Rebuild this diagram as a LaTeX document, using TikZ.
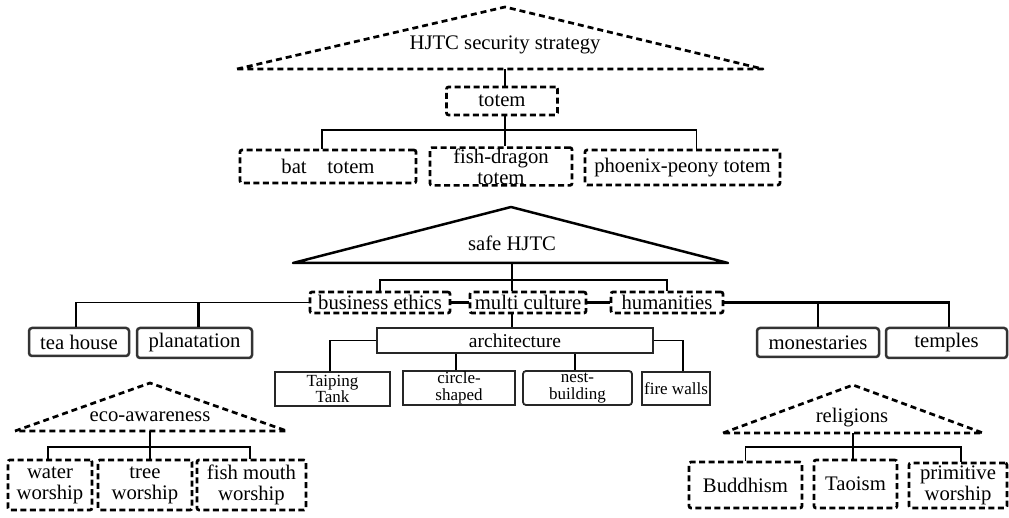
\documentclass[tikz,border=0pt]{standalone}
\usepackage{fontspec}
\setmainfont{Liberation Serif}
\usetikzlibrary{positioning}
\tikzset{
  dbox/.style={draw, dash pattern=on 6pt off 3.5pt, line width=2.7pt,
    rounded corners=2pt, inner sep=1pt, align=center},
  rbox/.style={draw=black!80, line width=2.5pt, rounded corners=3pt, inner sep=1pt},
  abox/.style={draw=black!85, line width=1.8pt, inner sep=1pt, align=center,
    font=\fontsize{17}{16.5}\selectfont},
  dtri/.style={dash pattern=on 6pt off 4pt, line width=2.7pt, line join=round},
  link/.style={line width=1.4pt},
  hlink/.style={line width=2.5pt}
}
\begin{document}
\begin{tikzpicture}[x=1pt,y=-1pt,font=\fontsize{20.7}{21}\selectfont]
  \useasboundingbox (0,0) rectangle (1009,518);

  % security strategy
  \draw[dtri] (237,69) -- (505,7) -- (763,69) -- cycle;
  \node (sectitle) at (505,45) {HJTC security strategy};
  \coordinate (secbase) at (505,69);
  \coordinate (totemjoin) at (505,130);
  \node[dbox, minimum width=111pt, minimum height=28pt] (totem) at (502,101) {totem};
  \node[dbox, minimum width=176pt, minimum height=33pt] (bat) at (328,166.5) {bat\hspace{1em}totem};
  \node[dbox, minimum width=142pt, minimum height=37pt] (fishdragon) at (501,166.5) {fish-dragon\\totem};
  \node[dbox, minimum width=195pt, minimum height=35pt] (phoenix) at (682.5,167.5) {phoenix-peony totem};
  \draw[link] (secbase) -- (secbase |- totem.north);
  \draw[link] (totem.south -| totemjoin) -- (totemjoin);
  \draw[link] ([xshift=-6pt]bat.north) |- (totemjoin) -| ([xshift=14pt]phoenix.north);
  \draw[link] (totemjoin) -- (totemjoin |- fishdragon.north);

  % safe HJTC
  \draw[line width=2.5pt, line join=round] (293,263) -- (511,207) -- (728,263) -- cycle;
  \node (safe) at (512,243) {safe HJTC};
  \coordinate (safebase) at (512,263);
  \coordinate (safejoin) at (512,280);
  \node[dbox, minimum width=140pt, minimum height=21pt] (ethics) at (380,302.5) {business ethics};
  \node[dbox, minimum width=116pt, minimum height=21pt] (multi) at (528,302.5) {multi culture};
  \node[dbox, minimum width=112pt, minimum height=21pt] (humanities) at (667,302.5) {humanities};
  \node[rbox, minimum width=100pt, minimum height=28pt] (teahouse) at (79,342) {tea house};
  \node[rbox, minimum width=115pt, minimum height=30pt] (planatation) at (194.5,343) {planatation};
  \node[rbox, minimum width=122pt, minimum height=29pt] (monestaries) at (818,342.5) {monestaries};
  \node[rbox, minimum width=121pt, minimum height=30pt] (temples) at (946.5,343) {temples};
  \draw[hlink] (safebase) -- (safejoin);
  \draw[hlink] (ethics.north) |- (safejoin) -| (humanities.north);
  \draw[hlink] (safejoin) -- (safejoin |- multi.north);
  \draw[hlink] (ethics.east) -- (multi.west);
  \draw[hlink] (multi.east) -- (humanities.west);
  \draw[link] (ethics.west) -| ([xshift=-3pt]teahouse.north);
  \draw[hlink] ([xshift=4pt]planatation.north) -- ([xshift=4pt]planatation.north |- ethics.west);
  \draw[hlink] (humanities.east) -| ([xshift=2.5pt]temples.north);
  \draw[hlink] (monestaries.north) -- (monestaries.north |- humanities.east);

  % architecture
  \node[abox, minimum width=276pt, minimum height=25pt, font=\fontsize{19.5}{20}\selectfont] (arch) at (515,340.5) {architecture};
  \node[abox, minimum width=115pt, minimum height=34pt] (taiping) at (332.5,389) {Taiping\\Tank};
  \node[abox, minimum width=112pt, minimum height=34pt] (circleshaped) at (459,388) {circle-\\shaped};
  \node[abox, minimum width=109pt, minimum height=34pt, rounded corners=3pt] (nest) at (577.5,388) {nest-\\building};
  \node[abox, minimum width=68pt, minimum height=33pt] (fire) at (676,388.5) {fire walls};
  \draw[hlink] (safejoin |- multi.south) -- (safejoin |- arch.north);
  \draw[link] (arch.west) -| ([xshift=-2.5pt]taiping.north);
  \draw[link] (arch.east) -| ([xshift=7pt]fire.north);
  \draw[link] ([xshift=-3pt]circleshaped.north) -- ([xshift=-3pt]circleshaped.north |- arch.south);
  \draw[link] ([xshift=-2.5pt]nest.north) -- ([xshift=-2.5pt]nest.north |- arch.south);

  % eco-awareness
  \draw[dtri] (15,431) -- (150,383) -- (287,431) -- cycle;
  \node (eco) at (150,417) {eco-awareness};
  \coordinate (ecobase) at (150,431);
  \coordinate (ecojoin) at (150,447);
  \node[dbox, minimum width=84pt, minimum height=50pt] (water) at (50,485) {water\\worship};
  \node[dbox, minimum width=94pt, minimum height=50pt] (tree) at (145,485) {tree\\worship};
  \node[dbox, minimum width=109pt, minimum height=50pt] (fishmouth) at (251.5,485) {fish mouth\\worship};
  \draw[link] (ecobase) -- (ecojoin);
  \draw[link] ([xshift=-2pt]water.north) |- (ecojoin) -| ([xshift=-1.5pt]fishmouth.north);
  \draw[link] (ecojoin) -- (ecojoin |- tree.north);

  % religions
  \draw[dtri] (723,433) -- (853,385) -- (983,433) -- cycle;
  \node (religions) at (852,418) {religions};
  \coordinate (relbase) at (853,433);
  \coordinate (reljoin) at (853,447);
  \node[dbox, minimum width=113pt, minimum height=46pt] (buddhism) at (745.5,485) {Buddhism};
  \node[dbox, minimum width=83pt, minimum height=48pt] (taoism) at (855.5,484) {Taoism};
  \node[dbox, minimum width=98pt, minimum height=45pt] (primitive) at (958,485.5) {primitive\\worship};
  \draw[link] (relbase) -- (reljoin);
  \draw[link] (buddhism.north) |- (reljoin) -| ([xshift=3pt]primitive.north);
  \draw[link] (reljoin) -- (reljoin |- taoism.north);
\end{tikzpicture}
\end{document}
